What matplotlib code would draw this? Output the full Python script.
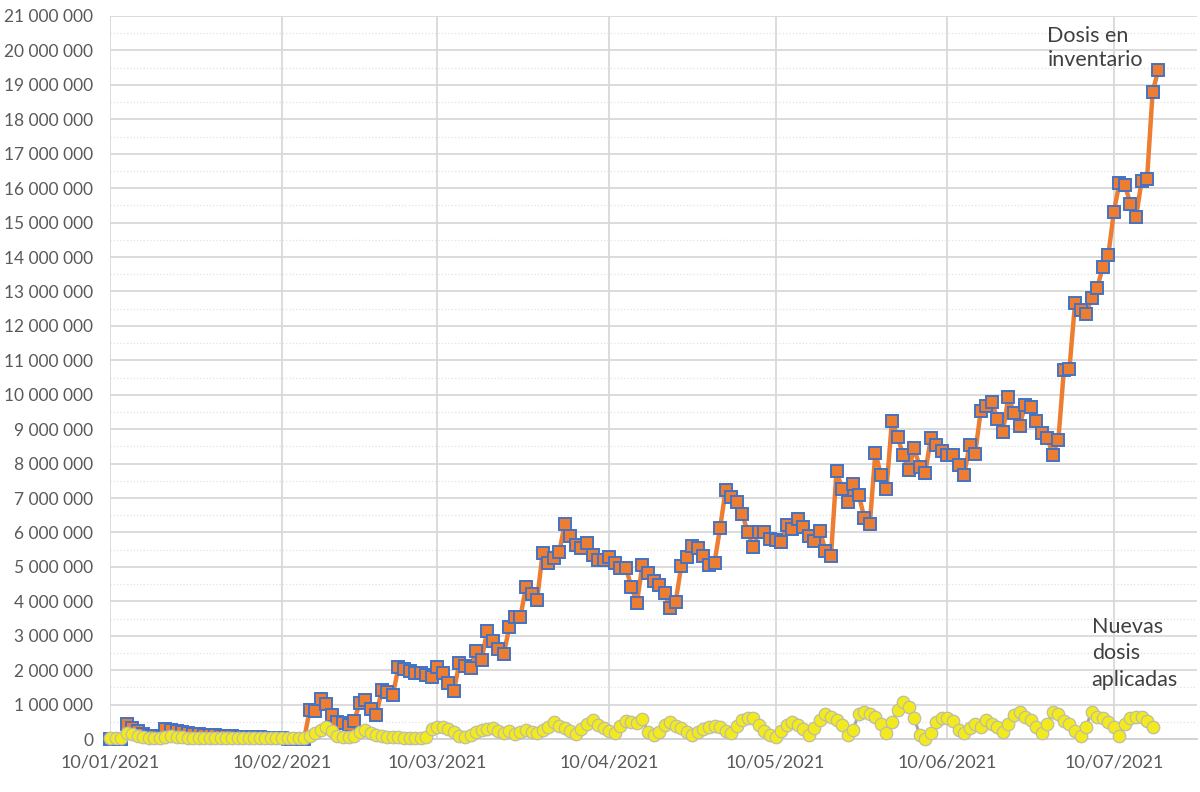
import matplotlib
matplotlib.use("Agg")
import matplotlib.pyplot as plt
import matplotlib.dates as mdates
import matplotlib.ticker as mticker
import numpy as np
import pandas as pd

# Daily values (millions of doses), starting 10/01/2021
inventario = [
    0.00, 0.00, 0.00, 0.45, 0.32, 0.22, 0.15, 0.10, 0.08, 0.06,
    0.28, 0.27, 0.24, 0.20, 0.18, 0.16, 0.14, 0.13, 0.12, 0.11,
    0.10, 0.09, 0.08, 0.07, 0.06, 0.06, 0.05, 0.05, 0.04, 0.04,
    0.03, 0.02, 0.01, 0.00, 0.00, 0.00,
    0.84, 0.82, 1.17, 1.02, 0.70, 0.50, 0.46, 0.41, 0.52, 1.04,
    1.13, 0.87, 0.70, 1.42, 1.36, 1.28, 2.09, 2.03, 1.98, 1.93,
    1.91, 1.86, 1.80, 2.10, 1.93, 1.64, 1.40,
    2.22, 2.13, 2.07, 2.56, 2.30, 3.14, 2.85, 2.60, 2.46, 3.26,
    3.55, 3.55, 4.42, 4.21, 4.04, 5.40, 5.11, 5.26, 5.43, 6.25,
    5.90, 5.64, 5.55, 5.70, 5.35, 5.20, 5.20, 5.29, 5.11, 4.97,
    4.98, 4.42,
    3.95, 5.06, 4.82, 4.60, 4.48, 4.24, 3.81, 3.99, 5.03, 5.28,
    5.61, 5.54, 5.33, 5.06, 5.12, 6.13, 7.23, 7.03, 6.87, 6.54,
    6.00, 5.58, 6.00, 6.00, 5.81, 5.78, 5.73,
    6.22, 6.10, 6.39, 6.16, 5.91, 5.76, 6.05, 5.47, 5.32, 7.79,
    7.26, 6.87, 7.41, 7.10, 6.43, 6.24, 8.32, 7.67, 7.26, 9.25,
    8.78, 8.25, 7.80, 8.45, 7.91, 7.73, 8.74, 8.55, 8.37, 8.26,
    8.26, 7.97,
    7.67, 8.55, 8.29, 9.53, 9.67, 9.79, 9.30, 8.93, 9.94, 9.47,
    9.08, 9.71, 9.64, 9.25, 8.89, 8.74, 8.26, 8.69, 10.73, 10.76,
    12.65, 12.45, 12.35, 12.80, 13.10, 13.70, 14.05, 15.30, 16.15, 16.08,
    15.55, 15.15, 16.20, 16.28, 18.80, 19.42,
]

aplicadas = [
    0.02, 0.02, 0.03, 0.18, 0.15, 0.10, 0.06, 0.04, 0.03, 0.04,
    0.07, 0.08, 0.06, 0.05, 0.04, 0.03, 0.04, 0.03, 0.04, 0.03,
    0.03, 0.04, 0.03, 0.03, 0.04, 0.03, 0.03, 0.03, 0.04, 0.03,
    0.03, 0.03, 0.03, 0.03, 0.03, 0.04,
    0.10, 0.18, 0.26, 0.35, 0.22, 0.10, 0.06, 0.06, 0.10, 0.20,
    0.26, 0.18, 0.12, 0.08, 0.06, 0.06, 0.05, 0.04, 0.03, 0.02,
    0.02, 0.05, 0.28, 0.36, 0.35, 0.30, 0.20, 0.10, 0.05, 0.12,
    0.20, 0.26, 0.30, 0.31, 0.24, 0.18, 0.22, 0.14, 0.19, 0.27,
    0.19, 0.17, 0.27, 0.35, 0.48, 0.37, 0.31, 0.22, 0.14, 0.30,
    0.44, 0.55, 0.42, 0.31, 0.22, 0.17, 0.38, 0.51, 0.50, 0.46,
    0.58, 0.20, 0.13, 0.20, 0.42, 0.50, 0.37, 0.31, 0.20, 0.13,
    0.20, 0.30, 0.35, 0.37, 0.36, 0.23, 0.17, 0.38, 0.55, 0.62,
    0.60, 0.42, 0.22, 0.13, 0.05, 0.22, 0.40, 0.48, 0.42, 0.28,
    0.11, 0.31, 0.55, 0.73, 0.65, 0.55, 0.40, 0.13, 0.27, 0.74,
    0.79, 0.74, 0.65, 0.43, 0.17, 0.48, 0.84, 1.08, 0.93, 0.60,
    0.13, 0.00, 0.17, 0.48, 0.62, 0.60, 0.53, 0.27, 0.17, 0.31,
    0.43, 0.36, 0.55, 0.44, 0.36, 0.21, 0.44, 0.69, 0.79, 0.65,
    0.55, 0.36, 0.17, 0.44, 0.79, 0.74, 0.53, 0.43, 0.22, 0.10,
    0.36, 0.79, 0.65, 0.62, 0.50, 0.34, 0.10, 0.43, 0.60, 0.65,
    0.65, 0.53, 0.34,
]

start = pd.Timestamp("2021-01-10")
fechas_inv = pd.date_range(start, periods=len(inventario), freq="D")
fechas_apl = pd.date_range(start, periods=len(aplicadas), freq="D")
inv = np.array(inventario) * 1e6
apl = np.array(aplicadas) * 1e6

plt.rcParams["font.family"] = ["Lato", "DejaVu Sans"]

fig = plt.figure(figsize=(12, 7.92), dpi=100)
ax = fig.add_axes([0.0917, 0.0669, 0.9058, 0.9129])

ax.plot(fechas_inv, inv, color="#ED7D31", lw=3.2, marker="s", ms=8.5,
        mfc="#ED7D31", mec="#4472C4", mew=1.4, zorder=3, clip_on=False)
ax.plot(fechas_apl, apl, color="#A5A5A5", lw=2.2, marker="o", ms=9,
        mfc="#F2EA1F", mec="#BDBDA8", mew=0.9, zorder=4, clip_on=False)

ax.set_ylim(0, 21e6)
ax.set_xlim(start, start + pd.Timedelta(days=196))

ax.yaxis.set_major_locator(mticker.MultipleLocator(1e6))
ax.yaxis.set_minor_locator(mticker.MultipleLocator(5e5))
ax.yaxis.set_major_formatter(
    mticker.FuncFormatter(lambda v, p: f"{int(round(v)):,}".replace(",", " ")))

ax.xaxis.set_major_locator(mdates.DayLocator(bymonthday=10))
ax.xaxis.set_major_formatter(mdates.DateFormatter("%d/%m/%Y"))

ax.grid(True, which="major", color="#D9D9D9", lw=1.3)
ax.grid(True, which="minor", axis="y", color="#E2E2E2", lw=0.9, ls=":")
ax.set_axisbelow(True)

for side in ["top", "right", "left"]:
    ax.spines[side].set_visible(False)
ax.spines["bottom"].set_color("#D0D0D0")
ax.spines["bottom"].set_linewidth(1.3)

ax.tick_params(axis="both", which="both", length=0, labelsize=12.5,
               labelcolor="#595959")
ax.tick_params(axis="x", labelsize=13, pad=11)
ax.tick_params(axis="y", pad=12)

ax.text(pd.Timestamp("2021-06-28"), 20.7e6, "Dosis en\ninventario",
        fontsize=15.5, color="#404040", va="top", ha="left", linespacing=1.25)
ax.text(pd.Timestamp("2021-07-06"), 3.55e6, "Nuevas\ndosis\naplicadas",
        fontsize=15.5, color="#404040", va="top", ha="left", linespacing=1.4)

fig.savefig("out.png", dpi=100)
